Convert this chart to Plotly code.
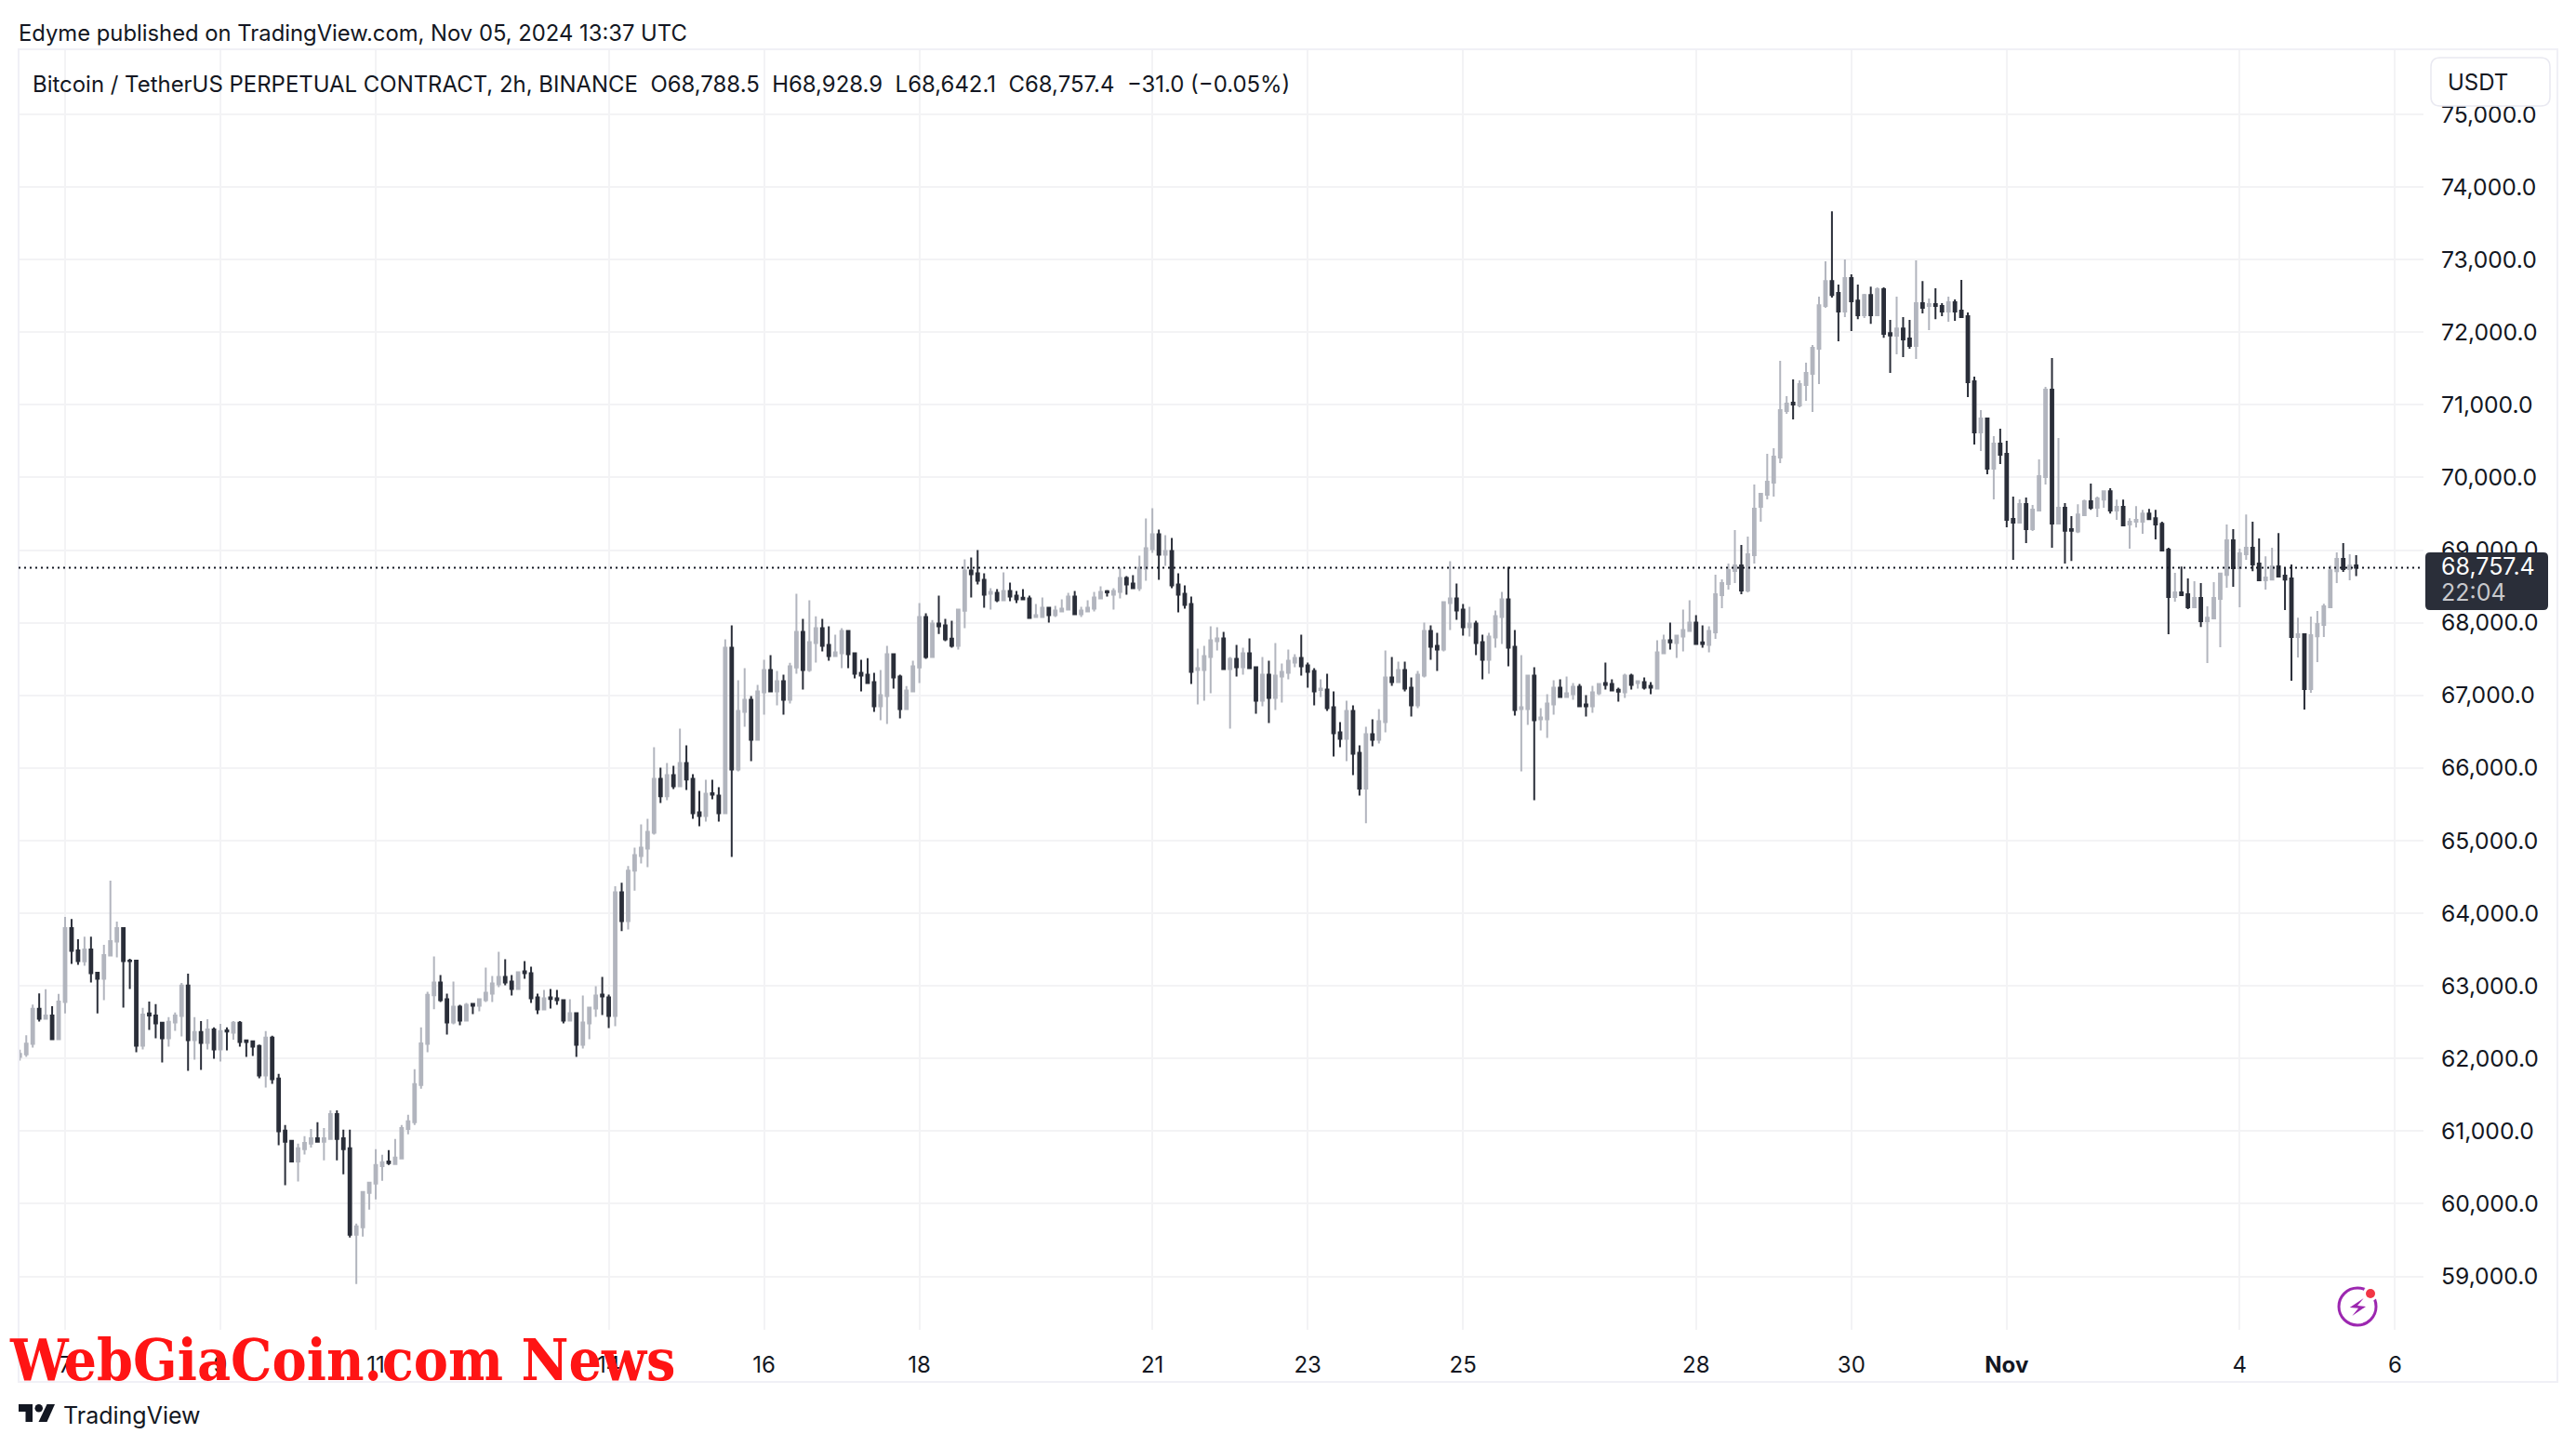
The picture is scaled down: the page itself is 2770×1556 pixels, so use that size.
import pandas as pd
import plotly.graph_objects as go

W, H = 2770, 1556
L, R, T, B = 20, 2606, 54, 1430

FIRST_BAR = "2024-10-06 10:00"
BAR_FREQ = "2h"

opens = [
62021,62056,62201,62683,62546,62593,62265,
62777,63796,63489,63336,63502,63182,63097,63417,63609,63796,
63348,63348,62175,62619,62593,62491,62277,62495,62585,63003,
62252,62363,62213,62401,62124,62388,62354,62491,62248,62235,
62171,61765,62286,61723,61006,60865,60583,60750,60827,60903,
60852,60891,61236,60903,60763,59572,59675,60148,60276,60519,
60583,60545,60622,61031,61121,61633,62201,62870,63045,62815,
62495,62712,62520,62751,62725,62802,62892,63020,63122,63058,
62956,63199,63173,62840,62674,62840,62828,62802,62520,62623,
62188,62482,62687,62879,62840,62584,64287,63890,64586,64787,
64889,65107,65849,65610,65901,65747,66067,65849,65388,65337,
65653,65619,65376,67654,65977,66771,66937,66387,67040,67347,
67053,67194,66937,67385,67872,67347,67718,67923,67693,67539,
67578,67885,67578,67309,67283,67181,66848,66989,67565,67258,
66809,67053,67385,68077,67526,67987,67962,67782,67680,68166,
68717,68680,68591,68399,68411,68309,68437,68373,68343,68335,
68079,68079,68207,68104,68155,68181,68360,68117,68155,68194,
68335,68433,68386,68424,68616,68540,68476,68744,69013,69218,
68936,68987,68527,68399,68258,67349,67349,67528,67746,67784,
67362,67503,67387,67579,67387,66927,67285,66965,67259,67311,
67451,67515,67413,67336,67072,67080,66837,66491,66402,66786,
66210,65715,66466,66389,66632,67247,67183,67349,67106,66863,
67272,67887,67682,67631,68271,68335,68181,67938,67989,67733,
67490,67797,68079,68322,67669,66811,66811,67272,66671,66671,
66875,67106,66978,67016,67119,66875,66850,67029,67170,67157,
67076,67042,67272,67170,67183,67131,67093,67580,67759,67720,
67810,67887,68002,67729,67695,67867,68379,68532,68711,68788,
68443,68929,69595,69761,69928,70273,70913,71028,70990,71272,
71425,71771,72360,72705,72539,72283,72744,72436,72232,72513,
72232,72590,71988,71950,72052,71912,71809,72398,72360,72385,
72360,72283,72411,72296,72219,71323,70619,70811,70119,70465,
70324,69428,69377,69633,69287,69543,70004,71208,69364,69581,
69287,69257,69479,69671,69581,69696,69811,69543,69594,69351,
69389,69389,69504,69440,69363,69005,68352,68416,68391,68211,
68339,68019,68058,68327,68659,69133,68749,68941,69031,68813,
68583,68595,68775,68647,68608,67802,67840,67085,67814,67968,
68211,68710,68877,68736,68788.5,
]

closes = [
62064,62205,62683,62546,62593,62265,62785,
63796,63481,63340,63502,63174,63097,63425,63617,63796,63340,
63340,62175,62606,62593,62482,62277,62504,62593,63003,62252,
62363,62213,62401,62124,62376,62371,62491,62226,62226,62162,
61765,62286,61714,60997,60852,60583,60763,60839,60903,60852,
60903,61236,60891,60750,59572,59687,60161,60289,60532,60571,
60558,60635,61044,61134,61646,62209,62875,63045,62802,62495,
62712,62520,62738,62725,62815,62904,63032,63122,63045,62956,
63186,63173,62828,62674,62828,62820,62802,62520,62623,62188,
62495,62700,62866,62853,62584,64287,63890,64586,64800,64902,
65120,65849,65610,65901,65747,66067,65841,65376,65337,65645,
65632,65376,67654,65977,66784,66937,66387,67053,67347,67053,
67194,66937,67398,67872,67347,67731,67923,67680,67539,67590,
67885,67565,67296,67270,67168,66848,67001,67565,67245,66809,
67065,67398,68077,67526,67987,67949,67770,67680,68179,68717,
68668,68578,68386,68424,68309,68437,68360,68322,68322,68066,
68104,68207,68104,68168,68194,68360,68117,68168,68207,68347,
68424,68416,68437,68616,68527,68476,68757,69026,69218,68936,
68987,68514,68386,68245,67323,67375,67541,67759,67784,67362,
67503,67387,67579,67375,66927,67285,66965,67272,67323,67477,
67515,67400,67323,67055,67093,66824,66479,66402,66786,66197,
65715,66466,66389,66645,67247,67183,67349,67093,66863,67285,
67887,67669,67631,68284,68335,68168,67938,67989,67720,67490,
67810,68092,68322,67656,66799,66837,67272,66658,66696,66888,
67106,66978,67029,67119,66850,66850,67042,67157,67144,67067,
67050,67272,67144,67195,67106,67106,67592,67759,67729,67823,
67900,68002,67707,67707,67887,68391,68545,68724,68788,68443,
68942,69569,69774,69940,70286,70926,71016,71003,71284,71438,
71784,72372,72705,72513,72283,72744,72424,72232,72513,72232,
72590,71976,71954,72052,71899,71809,72398,72334,72385,72360,
72283,72411,72283,72206,71310,70619,70811,70119,70465,70311,
69415,69377,69633,69287,69556,70017,71208,69364,69582,69265,
69265,69491,69671,69581,69709,69811,69543,69594,69338,69389,
69415,69504,69427,69351,68992,68352,68416,68378,68211,68339,
68019,68070,68339,68676,69133,68749,68954,69031,68800,68583,
68621,68775,68634,68595,67802,67840,67085,67827,67981,68224,
68723,68877,68736,68787,68757.4,
]

highs = [
62120,62320,62743,62896,62952,62721,62888,
63950,63920,63643,63677,63677,63195,63566,64449,63886,63796,
63374,63348,62696,62785,62747,62504,62568,62632,63041,63169,
62568,62516,62542,62427,62478,62427,62516,62516,62260,62235,
62192,62376,62312,61787,61083,60878,60827,60929,61031,61121,
61044,61287,61287,61019,61019,59726,60174,60289,60750,60673,
60737,60891,61083,61224,61851,62427,62917,63404,63148,62892,
63058,62738,62764,62751,62815,63250,63135,63468,63365,63148,
63199,63340,63263,62892,62943,62956,62943,62802,62815,62636,
62866,62712,62994,63122,62879,64372,64420,64650,64902,65222,
65299,66285,66003,66067,66029,66541,66310,65913,65683,65837,
65837,65734,67770,67962,67206,67373,66989,67142,67488,67552,
67334,67283,67449,68397,68051,68307,68089,68051,67949,67834,
67923,67885,67578,67488,67513,67309,67347,67680,67578,67283,
67129,67475,68269,68128,68038,68371,68051,68026,68179,68872,
68898,69000,68680,68476,68463,68693,68552,68437,68463,68373,
68258,68347,68220,68232,68322,68411,68437,68220,68309,68424,
68501,68450,68476,68757,68642,68655,68924,69436,69576,69282,
69205,69167,68680,68514,68360,67643,67682,67951,67938,67874,
67528,67695,67656,67784,67387,67528,67477,67720,67439,67631,
67567,67835,67451,67375,67221,67298,67055,66632,66927,66863,
66312,66568,66671,66811,67618,67528,67464,67464,67247,67336,
68002,67964,67861,68296,68847,68540,68258,68220,68028,67836,
67861,68168,68424,68770,67900,67554,67272,67388,66824,67016,
67208,67221,67259,67170,67157,67003,67132,67170,67451,67221,
67106,67298,67298,67208,67247,67183,67759,67836,68002,67836,
68181,68309,68104,67964,67951,68660,68596,68814,69275,69070,
69185,69902,69774,70324,70401,71604,71118,71348,71336,71579,
71822,72488,72974,73665,72654,73000,72795,72654,72526,72628,
72616,72616,72168,72488,72206,72168,72987,72705,72462,72603,
72398,72488,72449,72718,72270,71387,70926,70811,70568,70670,
70503,69735,69697,69723,69620,70248,71246,71643,70542,69645,
69466,69632,69696,69914,69735,69824,69850,69696,69696,69440,
69606,69555,69568,69555,69389,69031,68685,68774,68608,68570,
68544,68224,68557,68685,69351,69287,69018,69491,69389,69159,
68915,69031,69235,68749,68800,68070,67840,68083,68160,68262,
68787,68967,69095,68941,68928.9,
]

lows = [
61970,62021,62150,62508,62546,62265,62265,
62619,63302,63289,63276,63046,62619,62802,63417,63391,62700,
62956,62085,62124,62393,62277,61945,62162,62380,62303,61829,
61983,61842,62124,61996,61957,62111,62260,62162,62021,62034,
61727,61599,61650,60805,60255,60571,60306,60677,60775,60852,
60596,60891,60596,60404,59534,58894,59547,59918,60059,60315,
60532,60545,60609,60955,61083,61582,62085,62678,62776,62329,
62469,62457,62520,62610,62648,62776,62776,62981,63007,62866,
62956,63096,62764,62610,62674,62687,62738,62482,62520,62021,
62136,62264,62572,62597,62418,62444,63754,63775,64312,64685,
64633,65081,65517,65555,65709,65747,65696,65299,65197,65261,
65568,65261,65363,64774,65952,66566,66093,66387,66733,67053,
66861,66733,66886,67296,67078,67322,67450,67603,67475,67539,
67373,67373,67232,67053,67155,66771,66656,66605,67091,66681,
66809,67053,67168,67501,67526,67846,67744,67654,67629,67923,
68347,68527,68207,68181,68283,68309,68296,68271,68322,68053,
68066,68079,68002,68079,68155,68168,68117,68079,68155,68155,
68335,68360,68181,68335,68386,68476,68437,68578,68962,68591,
68783,68476,68143,68194,67157,66875,66927,67029,67618,67349,
66543,67259,67285,67362,66747,66850,66619,66799,66901,67221,
67387,67272,67106,66863,66978,66786,66159,66287,66095,65902,
65621,65240,66299,66338,66491,67131,67183,67055,66709,66824,
67247,67490,67336,67605,67900,68040,67823,67810,67554,67221,
67298,67656,67707,67400,66722,65954,66594,65557,66517,66415,
66735,66978,66978,66939,66837,66709,66760,67003,67080,67055,
66914,66965,67080,67093,67080,67016,67093,67580,67631,67515,
67605,67887,67707,67656,67592,67777,68199,68455,68545,68391,
68417,68814,69390,69697,69735,70196,70875,70798,70964,71054,
70900,71284,72334,72475,71873,72206,72014,72180,72193,72116,
72232,71924,71438,71694,71656,71771,71630,72257,72027,72180,
72219,72142,72155,72206,71105,70452,70363,70043,69697,70183,
69313,68865,69364,69095,69262,69530,69902,69032,69351,68813,
68851,69235,69479,69555,69453,69581,69504,69415,69338,69018,
69312,69223,69427,69146,68992,67840,68288,68365,68186,68211,
67942,67443,68045,67661,68480,68493,68211,68864,68710,68583,
68455,68583,68621,68173,67200,67520,66803,67034,67456,67802,
68199,68544,68698,68583,68642.1,
]

x_tick_dates = ["2024-10-07", "2024-10-09", "2024-10-11", "2024-10-14", "2024-10-16",
                "2024-10-18", "2024-10-21", "2024-10-23", "2024-10-25", "2024-10-28",
                "2024-10-30", "2024-11-01", "2024-11-04", "2024-11-06"]
x_tick_labels = ["7", "9", "11", "14", "16", "18", "21", "23", "25", "28", "30", "<b>Nov</b>", "4", "6"]
y_ticks = [59000, 60000, 61000, 62000, 63000, 64000, 65000, 66000, 67000, 68000,
           69000, 70000, 71000, 72000, 73000, 74000, 75000]

X_RANGE = ["2024-10-06 09:38", "2024-11-06 08:48"]
Y_RANGE = [58264, 75882]

UP, DOWN, INK, GRID, EDGE = "#b2b5be", "#2a2e39", "#131722", "#f3f3f5", "#f0f0f6"
FONT = "Inter"

times = pd.date_range(FIRST_BAR, periods=len(opens), freq=BAR_FREQ)
assert len(opens) == len(closes) == len(highs) == len(lows)


def px(x):
    return (x - L) / (R - L)


def py(y):
    return (B - y) / (B - T)


def poly(points):
    return "M" + " L".join(f"{px(a):.6f},{py(b):.6f}" for a, b in points) + " Z"


def round_rect(x0, y0, x1, y1, r):
    q = lambda a, b: f"{px(a):.6f},{py(b):.6f}"
    return (f"M{q(x0 + r, y0)} L{q(x1 - r, y0)} Q{q(x1, y0)} {q(x1, y0 + r)} "
            f"L{q(x1, y1 - r)} Q{q(x1, y1)} {q(x1 - r, y1)} L{q(x0 + r, y1)} "
            f"Q{q(x0, y1)} {q(x0, y1 - r)} L{q(x0, y0 + r)} Q{q(x0, y0)} {q(x0 + r, y0)} Z")


def paper_shape(**kw):
    return dict(xref="paper", yref="paper", layer="above", **kw)


def note(text, x, y, size=24, color=INK, anchor="left", family=FONT, **kw):
    return dict(text=text, xref="paper", yref="paper", x=px(x), y=py(y), xanchor=anchor,
                yanchor="middle", showarrow=False,
                font=dict(family=family, size=size, color=color, **kw))


fig = go.Figure(go.Candlestick(
    x=times, open=opens, high=highs, low=lows, close=closes,
    increasing=dict(line=dict(color=UP, width=2), fillcolor=UP),
    decreasing=dict(line=dict(color=DOWN, width=2), fillcolor=DOWN),
    whiskerwidth=0,
))

shapes = [
    paper_shape(type="rect", x0=px(20), x1=px(2750), y0=py(53), y1=py(1486),
                line=dict(color=EDGE, width=2)),
    dict(type="line", xref="paper", yref="y", x0=0, x1=1, y0=closes[-1], y1=closes[-1],
         layer="above", line=dict(color=INK, width=2, dash="2px,4px")),
    paper_shape(type="path", path=round_rect(2614, 62, 2742, 114, 10), fillcolor="white",
                line=dict(color="#e9e9f1", width=1.5)),
    paper_shape(type="path", path=round_rect(2608, 594, 2740, 656, 5), fillcolor=DOWN,
                line=dict(width=0)),
    # TradingView mark
    paper_shape(type="path", fillcolor=INK, line=dict(width=0),
                path=poly([(20, 1510), (35, 1510), (35, 1529), (27.5, 1529), (27.5, 1518), (20, 1518)])),
    paper_shape(type="path", fillcolor=INK, line=dict(width=0),
                path=poly([(50.5, 1510), (59, 1510), (50.5, 1529), (41.5, 1529)])),
    paper_shape(type="circle", fillcolor=INK, line=dict(width=0),
                x0=px(37.5), x1=px(46), y0=py(1510), y1=py(1518.5)),
    # lightning badge
    paper_shape(type="circle", fillcolor="rgba(0,0,0,0)", line=dict(color="#9c27b0", width=3),
                x0=px(2515), x1=px(2555), y0=py(1385), y1=py(1425)),
    paper_shape(type="path", fillcolor="#9c27b0", line=dict(width=0),
                path=poly([(2541.7, 1396), (2526.7, 1406), (2536, 1406.7), (2529.3, 1415), (2544, 1405), (2535, 1404)])),
    paper_shape(type="circle", fillcolor="white", line=dict(width=0),
                x0=px(2541), x1=px(2557), y0=py(1383), y1=py(1399)),
    paper_shape(type="circle", fillcolor="#f23645", line=dict(width=0),
                x0=px(2544), x1=px(2554), y0=py(1386), y1=py(1396)),
]

annotations = [
    note("Edyme published on TradingView.com, Nov 05, 2024 13:37 UTC", 18, 35, size=23.8),
    note("Bitcoin / TetherUS PERPETUAL CONTRACT, 2h, BINANCE  O68,788.5  H68,928.9  L68,642.1  C68,757.4  −31.0 (−0.05%)",
         33, 90, size=23.94),
    note("USDT", 2630, 88),
    note(f"{closes[-1]:,.1f}", 2623, 609, size=25, color="white"),
    note("22:04", 2623, 637, size=25, color="#c8c9cd"),
    note("TradingView", 66, 1522, size=25),
    note("<b>WebGiaCoin.com News</b>", 8, 1462, size=62, color="#ff1414", family="DejaVu Serif Condensed"),
]

fig.update_layout(
    width=W, height=H, autosize=False,
    margin=dict(l=L, r=W - R, t=T, b=H - B, pad=0),
    paper_bgcolor="white", plot_bgcolor="white",
    showlegend=False, boxgap=0.42,
    font=dict(family=FONT, size=24, color=INK),
    shapes=shapes, annotations=annotations,
    xaxis=dict(
        type="date", range=X_RANGE, rangeslider=dict(visible=False),
        tickmode="array", tickvals=x_tick_dates, ticktext=x_tick_labels,
        showgrid=True, gridcolor=GRID, gridwidth=2, zeroline=False, showline=False,
        ticks="outside", ticklen=16, tickcolor="rgba(0,0,0,0)",
        tickfont=dict(family=FONT, size=24, color=INK),
    ),
    yaxis=dict(
        side="right", range=Y_RANGE, tickmode="array", tickvals=y_ticks, tickformat=",.1f",
        showgrid=True, gridcolor=GRID, gridwidth=2, zeroline=False, showline=False,
        ticks="outside", ticklen=13, tickcolor="rgba(0,0,0,0)",
        tickfont=dict(family=FONT, size=24.7, color=INK),
    ),
)

fig.write_html("out.html", config=dict(displayModeBar=False),
               post_script="document.body.style.margin='0';document.body.style.overflow='hidden';")
